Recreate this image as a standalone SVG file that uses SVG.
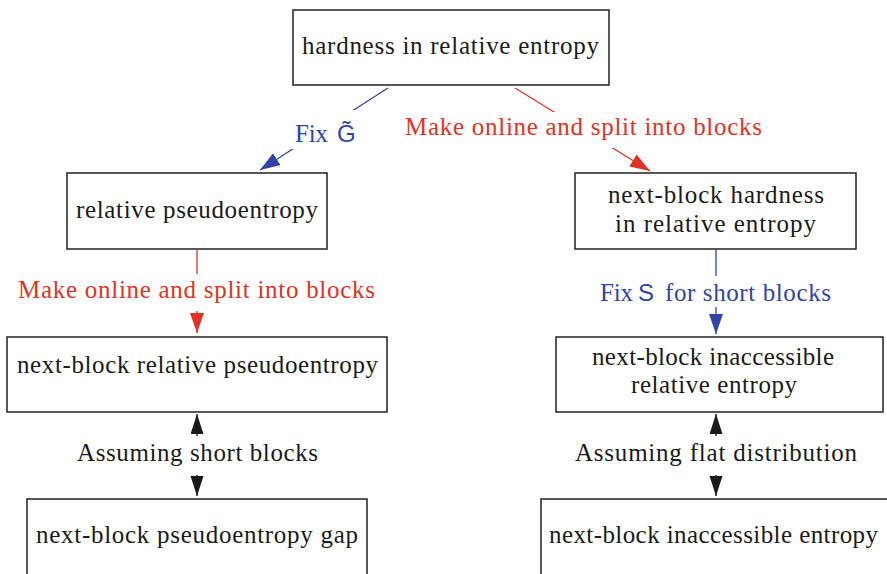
<svg xmlns="http://www.w3.org/2000/svg" width="887" height="574" viewBox="0 0 887 574">
<style>
.box{fill:#fff;stroke:#222;stroke-width:1.5}
.t{font-family:"Liberation Serif","DejaVu Serif",serif;font-size:25px;fill:#1a1a1a;text-anchor:middle}
.sf{font-family:"Liberation Sans","DejaVu Sans",sans-serif;font-size:24px}
.red{fill:#df3326}
.blue{fill:#2f45a6}
.bg{fill:#fff;stroke:none}
.cr{stroke:#df3326;stroke-width:1.3;fill:none}
.cb{stroke:#2f45a6;stroke-width:1.3;fill:none}
.ck{stroke:#1a1a1a;stroke-width:1.3;fill:none}
</style>
<defs>
<marker id="ar" markerUnits="userSpaceOnUse" markerWidth="21" markerHeight="15" refX="20" refY="7" orient="auto-start-reverse" viewBox="0 0 21 15"><path d="M0,0 L20,7 L0,14 z" fill="#df3326"/></marker>
<marker id="ab" markerUnits="userSpaceOnUse" markerWidth="21" markerHeight="15" refX="20" refY="7" orient="auto-start-reverse" viewBox="0 0 21 15"><path d="M0,0 L20,7 L0,14 z" fill="#2f45a6"/></marker>
<marker id="ak" markerUnits="userSpaceOnUse" markerWidth="21" markerHeight="15" refX="20" refY="6.5" orient="auto-start-reverse" viewBox="0 0 21 15"><path d="M0,0 L20,6.5 L0,13 z" fill="#1a1a1a"/></marker>
</defs>
<rect width="887" height="574" fill="#fff"/>
<g id="connectors">
<path class="cb" d="M388,88 L260,170" marker-end="url(#ab)"/>
<path class="cr" d="M515,88 L650,171" marker-end="url(#ar)"/>
<path class="cr" d="M197,250 L197,333" marker-end="url(#ar)"/>
<path class="cb" d="M716,250 L716,334" marker-end="url(#ab)"/>
<path class="ck" d="M197,414 L197,496" marker-start="url(#ak)" marker-end="url(#ak)"/>
<path class="ck" d="M716,414 L716,496" marker-start="url(#ak)" marker-end="url(#ak)"/>
<g id="lbl-fixg">
<rect class="bg" x="290" y="110" width="68" height="39"/>
<text class="t blue" x="295" y="142" style="text-anchor:start" textLength="33">Fix</text>
<text class="sf blue" x="337" y="142">G&#x303;</text>
</g>
<g id="lbl-top-red">
<rect class="bg" x="400" y="112" width="368" height="36"/>
<text class="t red" x="583.5" y="135" textLength="357">Make online and split into blocks</text>
</g>
<g id="lbl-left-red">
<rect class="bg" x="10" y="274" width="372" height="37"/>
<text class="t red" x="196.5" y="298" textLength="357">Make online and split into blocks</text>
</g>
<g id="lbl-fixs">
<rect class="bg" x="594" y="276" width="244" height="31"/>
<text class="t blue" x="600" y="301" style="text-anchor:start" textLength="33">Fix</text>
<text class="sf blue" x="638" y="301">S</text>
<text class="t blue" x="665" y="301" style="text-anchor:start" textLength="166">for short blocks</text>
</g>
<g id="lbl-short">
<rect class="bg" x="70" y="436" width="256" height="39"/>
<text class="t" x="197.5" y="461" textLength="241">Assuming short blocks</text>
</g>
<g id="lbl-flat">
<rect class="bg" x="568" y="436" width="296" height="39"/>
<text class="t" x="716" y="461" textLength="282">Assuming flat distribution</text>
</g>
</g>
<g id="n-hardness">
<rect class="box" x="293" y="10" width="316" height="75"/>
<text class="t" x="450.5" y="54" textLength="297">hardness in relative entropy</text>
</g>
<g id="n-relpseudo">
<rect class="box" x="67" y="173" width="260" height="76"/>
<text class="t" x="197" y="218" textLength="242">relative pseudoentropy</text>
</g>
<g id="n-nbhardness">
<rect class="box" x="575" y="173" width="281" height="76"/>
<text class="t" x="716" y="203" textLength="216">next-block hardness</text>
<text class="t" x="715.5" y="232" textLength="201">in relative entropy</text>
</g>
<g id="n-nbrelpseudo">
<rect class="box" x="7" y="337" width="380" height="75"/>
<text class="t" x="197.5" y="373" textLength="361">next-block relative pseudoentropy</text>
</g>
<g id="n-nbinaccrel">
<rect class="box" x="556" y="337" width="327" height="75"/>
<text class="t" x="713" y="365" textLength="242">next-block inaccessible</text>
<text class="t" x="714" y="393" textLength="166">relative entropy</text>
</g>
<g id="n-nbgap">
<rect class="box" x="27" y="499" width="340" height="90"/>
<text class="t" x="197" y="543" textLength="322">next-block pseudoentropy gap</text>
</g>
<g id="n-nbinacc">
<rect class="box" x="541" y="499" width="360" height="90"/>
<text class="t" x="713.5" y="543" textLength="329">next-block inaccessible entropy</text>
</g>
</svg>
